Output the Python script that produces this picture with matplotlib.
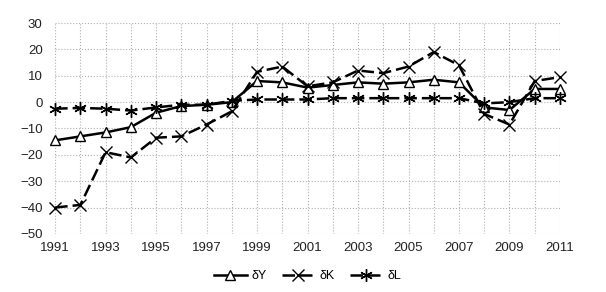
import matplotlib.pyplot as plt
import numpy as np

plt.rcParams['font.family'] = ['Liberation Sans', 'DejaVu Sans']

years = list(range(1991, 2012))
dY = [-14.5, -13, -11.5, -9.5, -4, -1.5, -1, 0, 8, 7.5, 5.5, 6.5, 7.5, 7, 7.5, 8.5, 7.5, -2, -3, 5, 5]
dK = [-40, -39, -19, -21, -13.5, -13, -8.5, -3.5, 11.5, 13.5, 6, 7.5, 12, 11, 13.5, 19, 14, -4.5, -8.5, 8, 9.5]
dL = [-2.5, -2.2, -2.5, -3.2, -2, -1, -1, 0.5, 1, 1, 1, 1.5, 1.5, 1.5, 1.5, 1.5, 1.5, -0.5, 0, 1.5, 1.5]

fig = plt.figure(figsize=(6.06, 2.92), dpi=100)
ax = fig.add_axes([0.091, 0.199, 0.833, 0.722])

ax.plot(years, dY, '-', color='black', lw=1.8, marker='^', ms=7,
        mfc='white', mec='black', mew=1.0, label='δY', clip_on=False)
ax.plot(years, dK, '--', color='black', lw=1.8, dashes=(5, 2), marker='x', ms=9,
        mew=1.0, label='δK', clip_on=False)
ax.plot(years, dL, '--', color='black', lw=1.8, dashes=(5, 2), marker=(6, 2, 0), ms=9,
        mew=1.0, label='δL', clip_on=False)

ax.set_xlim(1991, 2011)
ax.set_ylim(-50, 30)
ax.set_xticks(range(1991, 2012, 2))
ax.set_xticks(range(1991, 2012), minor=True)
ax.set_yticks(range(-50, 31, 10))
ax.grid(True, which='both', color='#b0b0b0', lw=0.8, ls=':')
for s in ax.spines.values():
    s.set_visible(False)
ax.tick_params(which='both', length=0, labelsize=9.5, colors='#222222')
ax.tick_params(axis='x', pad=6)
ax.tick_params(axis='y', pad=9)
ax.set_axisbelow(True)

ax.legend(loc='upper center', bbox_to_anchor=(0.5, -0.12), ncol=3, frameon=False,
          fontsize=9, handlelength=2.6, columnspacing=1.2, handletextpad=0.4)

fig.savefig('out.png', dpi=100)
